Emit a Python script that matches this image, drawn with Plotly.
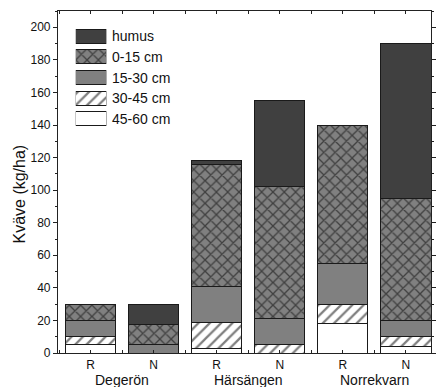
import plotly.graph_objects as go

# ---- data ----
treatments = ["R", "N", "R", "N", "R", "N"]
sites = ["Degerön", "Härsängen", "Norrekvarn"]
layers = ["humus", "0-15 cm", "15-30 cm", "30-45 cm", "45-60 cm"]
v_45_60 = [5, None, 3, None, 18, 4]
v_30_45 = [5, None, 16, 5, 12, 6]
v_15_30 = [10, 5, 22, 16, 25, 10]
v_0_15 = [10, 12.4, 75, 81, 85, 75]
v_humus = [None, 12.6, 2, 53, None, 95]
y_ticks = [0, 20, 40, 60, 80, 100, 120, 140, 160, 180, 200]

FONT = "Liberation Sans, Arial, sans-serif"
DARK = "#404040"
GRAY = "#808080"
EDGE = "#1a1a1a"

styles = {
    "humus": dict(color=DARK, pattern=None),
    "0-15 cm": dict(color=GRAY, pattern=dict(shape="x", fgcolor="#000000", bgcolor=GRAY, size=8, solidity=0.3)),
    "15-30 cm": dict(color=GRAY, pattern=None),
    "30-45 cm": dict(color="white", pattern=dict(shape="/", fgcolor="#000000", bgcolor="white", size=8, solidity=0.28)),
    "45-60 cm": dict(color="white", pattern=None),
}

xpos = list(range(len(treatments)))
series = [("45-60 cm", v_45_60), ("30-45 cm", v_30_45), ("15-30 cm", v_15_30),
          ("0-15 cm", v_0_15), ("humus", v_humus)]

fig = go.Figure()
for name, vals in series:
    st = styles[name]
    marker = dict(color=st["color"], line=dict(color=EDGE, width=1))
    if st["pattern"]:
        marker["pattern"] = st["pattern"]
    fig.add_trace(go.Bar(x=xpos, y=vals, name=name, width=0.8, marker=marker,
                         showlegend=False, xaxis="x", yaxis="y"))

# custom legend drawn as bars in a small overlay axis
for name in layers:
    st = styles[name]
    marker = dict(color=st["color"], line=dict(color=EDGE, width=1))
    if st["pattern"]:
        marker["pattern"] = st["pattern"]
    fig.add_trace(go.Bar(y=[name], x=[1], base=0, orientation="h", width=0.68,
                         marker=marker, showlegend=False, xaxis="x2", yaxis="y2"))

annotations = []
for name in layers:
    annotations.append(dict(x=(110.7 - 58) / 378, xref="paper", y=name, yref="y2",
                            text=name, showarrow=False, xanchor="left", yanchor="middle",
                            font=dict(family=FONT, size=14, color="#111")))
for i, s in enumerate(sites):
    annotations.append(dict(x=2 * i + 0.5, xref="x", y=(353 - 370) / 342, yref="paper",
                            text=s, showarrow=False, xanchor="center", yanchor="top",
                            font=dict(family=FONT, size=14, color="#111")))
annotations.append(dict(x=(18 - 58) / 378, xref="paper", y=(353 - 194) / 342, yref="paper",
                        text="Kväve (kg/ha)", textangle=-90, showarrow=False,
                        xanchor="center", yanchor="middle",
                        font=dict(family=FONT, size=16, color="#111")))

fig.update_layout(
    width=439, height=387,
    margin=dict(l=58, r=3, t=11, b=34),
    paper_bgcolor="white", plot_bgcolor="white",
    barmode="stack", bargap=0.2,
    font=dict(family=FONT, color="#111"),
    xaxis=dict(range=[-0.517, 5.40], tickmode="array", tickvals=xpos, ticktext=treatments,
               showline=True, linecolor="#222", linewidth=1.2, mirror="ticks",
               ticks="inside", ticklen=3, tickcolor="#222",
               minor=dict(tickmode="linear", tick0=0, dtick=0.5, ticks="inside", ticklen=3, tickcolor="#222"),
               showgrid=False, zeroline=False, tickfont=dict(family=FONT, size=12, color="#111")),
    yaxis=dict(range=[0, 210], tickmode="array", tickvals=y_ticks,
               showline=True, linecolor="#222", linewidth=1.2, mirror="ticks",
               ticks="outside", ticklen=4, tickcolor="#222",
               minor=dict(tickmode="linear", tick0=0, dtick=10, ticks="outside", ticklen=2, tickcolor="#222"),
               showgrid=False, zeroline=False, tickfont=dict(family=FONT, size=12, color="#111")),
    xaxis2=dict(domain=[(76 - 58) / 378, (107 - 58) / 378], range=[0, 1], anchor="y2",
                visible=False, fixedrange=True),
    yaxis2=dict(domain=[(353 - 129.1) / 342, (353 - 26) / 342], anchor="x2",
                categoryorder="array", categoryarray=layers, autorange="reversed",
                visible=False, fixedrange=True),
    annotations=annotations,
)

fig.write_html("out.html")
